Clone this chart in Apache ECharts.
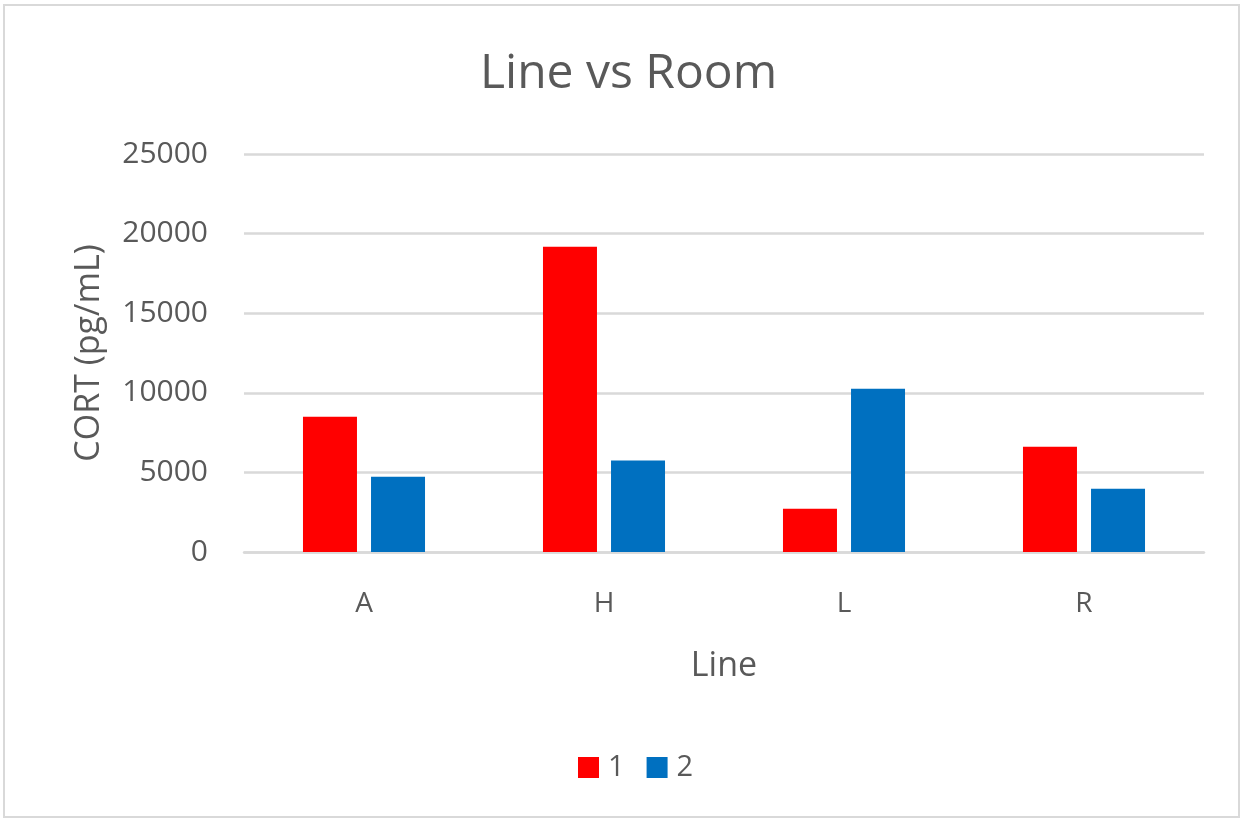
<!DOCTYPE html>
<html>
<head>
<meta charset="utf-8">
<title>Line vs Room</title>
<script src="https://cdn.jsdelivr.net/npm/echarts@6/dist/echarts.min.js"></script>
<style>
  html, body { margin: 0; padding: 0; background: #ffffff; }
  #chart { width: 1244px; height: 821px; }
</style>
</head>
<body>
<div id="chart"></div>
<script>
// Categories on the x axis (Line)
const lines = ['A', 'H', 'L', 'R'];
// CORT concentration (pg/mL) per room
const room1 = [8500, 19180, 2720, 6610];
const room2 = [4730, 5740, 10260, 3980];
const seriesNames = ['1', '2'];

const textColor = '#595959';
const fontFamily = '"Open Sans", "Noto Sans", sans-serif';

const chart = echarts.init(document.getElementById('chart'), null, { renderer: 'canvas' });

chart.setOption({
  backgroundColor: '#ffffff',
  animation: false,
  graphic: [{
    type: 'rect',
    shape: { x: 4, y: 5, width: 1235, height: 812 },
    style: { fill: 'none', stroke: '#d9d9d9', lineWidth: 2 },
    silent: true
  }],
  title: {
    text: 'Line vs Room',
    left: 475,
    top: 45,
    textStyle: { color: textColor, fontFamily: fontFamily, fontSize: 48, fontWeight: 'normal' }
  },
  legend: {
    data: seriesNames,
    bottom: 34,
    left: 573,
    itemWidth: 21,
    itemHeight: 21,
    itemGap: 22,
    icon: 'rect',
    textStyle: { color: textColor, fontFamily: fontFamily, fontSize: 29, padding: [0, 0, 0, 4] }
  },
  grid: { left: 244, right: 40, top: 154, bottom: 269 },
  xAxis: {
    type: 'category',
    data: lines,
    name: 'Line',
    nameLocation: 'middle',
    nameGap: 97,
    nameTextStyle: { color: textColor, fontFamily: fontFamily, fontSize: 34 },
    axisLine: { show: true, lineStyle: { color: '#d9d9d9', width: 2.5 } },
    axisTick: { show: false },
    axisLabel: { color: textColor, fontFamily: fontFamily, fontSize: 28, margin: 38 }
  },
  yAxis: {
    type: 'value',
    min: 0,
    max: 25000,
    interval: 5000,
    name: 'CORT (pg/mL)',
    nameLocation: 'middle',
    nameGap: 138,
    nameTextStyle: { color: textColor, fontFamily: fontFamily, fontSize: 34 },
    axisLine: { show: false },
    axisTick: { show: false },
    splitLine: { lineStyle: { color: '#d9d9d9', width: 2.5 } },
    axisLabel: {
      color: textColor, fontFamily: fontFamily, fontSize: 30, margin: 36,
      formatter: function (v) { return String(v); }
    }
  },
  series: [
    {
      name: seriesNames[0],
      type: 'bar',
      data: room1,
      barWidth: 54,
      barGap: '26%',
      itemStyle: { color: '#ff0000' }
    },
    {
      name: seriesNames[1],
      type: 'bar',
      data: room2,
      barWidth: 54,
      barGap: '26%',
      itemStyle: { color: '#0070c0' }
    }
  ]
});
</script>
</body>
</html>
